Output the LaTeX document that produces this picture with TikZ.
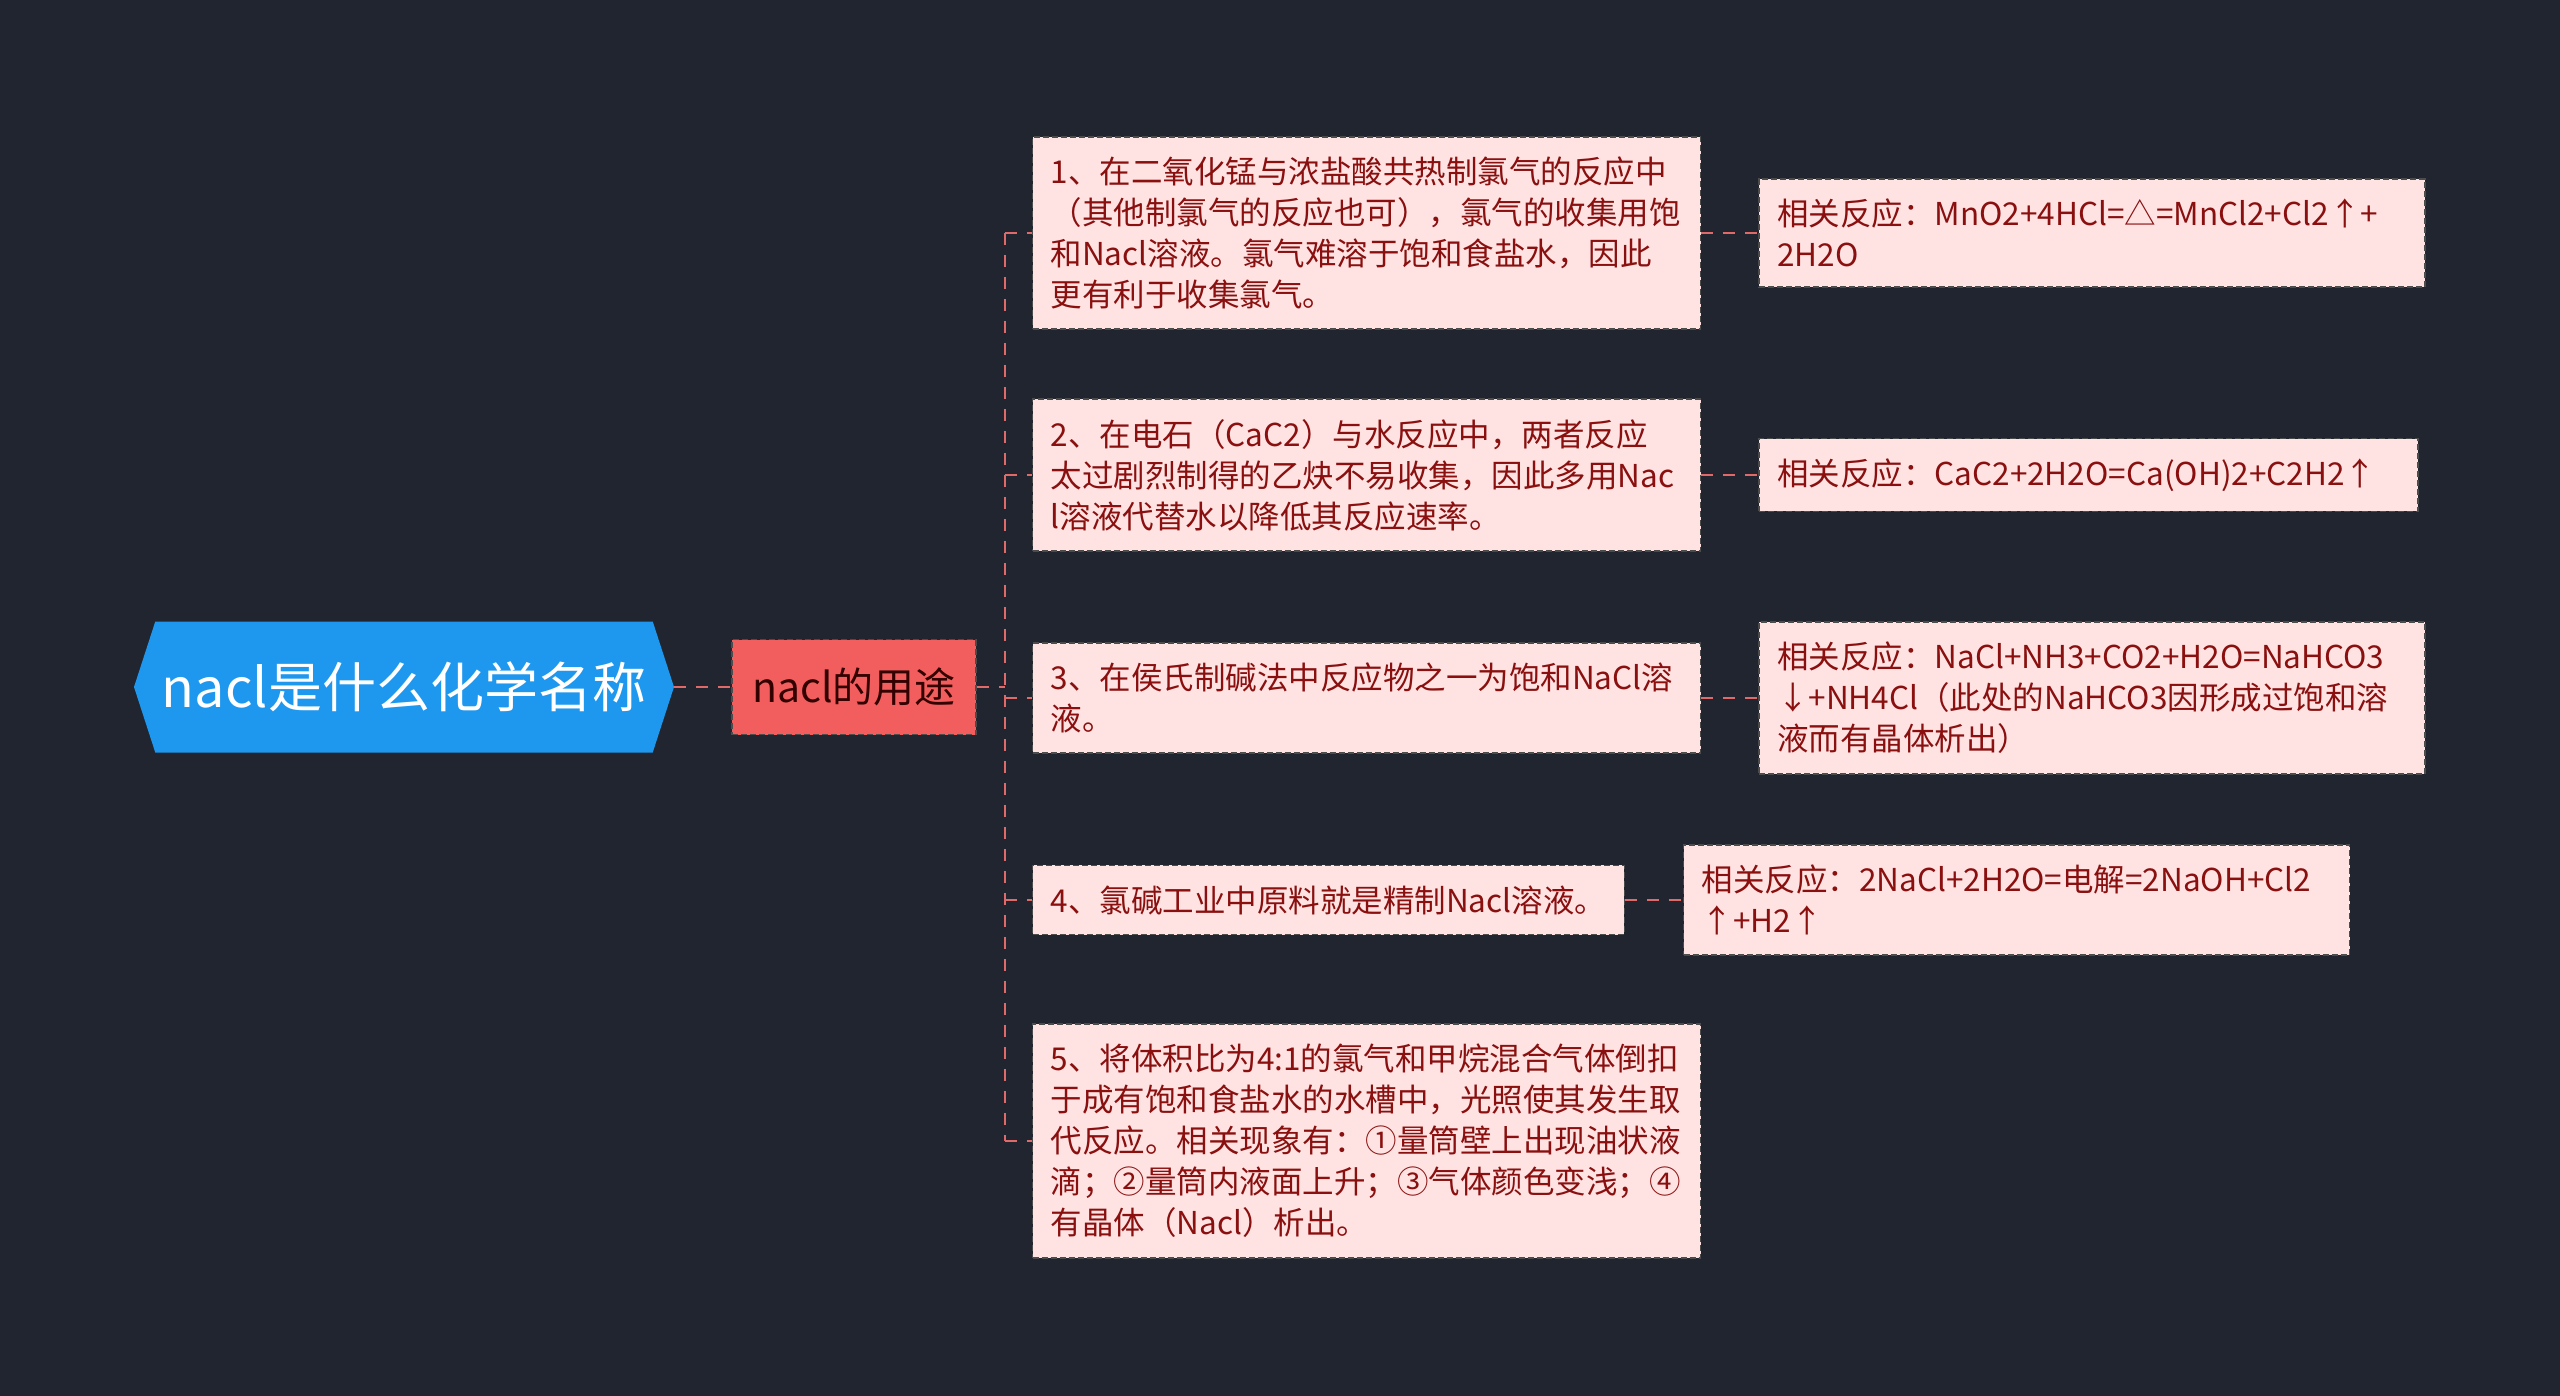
\documentclass[tikz,border=0pt]{standalone}
\usepackage{fontspec}
\setmainfont{Noto Sans CJK SC}
\usetikzlibrary{positioning,shapes.symbols}
\definecolor{bgdark}{HTML}{21252F}
\definecolor{rootblue}{HTML}{1E98EE}
\definecolor{usered}{HTML}{F25D5D}
\definecolor{leafpink}{HTML}{FFE3E3}
\definecolor{leaftext}{HTML}{8A1010}
\definecolor{linkred}{HTML}{E06A6A}
\tikzset{
  rootnode/.style={signal,signal to=east and west,signal pointer angle=144,
    fill=rootblue,text=white,font=\fontsize{27pt}{32pt}\selectfont,
    minimum width=270pt,minimum height=65.5pt,inner xsep=0pt},
  usenode/.style={draw=black!70,line width=0.7pt,dash pattern=on 3pt off 1.5pt,
    fill=usered,text=black!80!red,font=\fontsize{20.5pt}{24pt}\selectfont,
    minimum height=47.5pt,minimum width=122pt},
  leaf/.style={draw=black!70,line width=0.7pt,dash pattern=on 3pt off 1.5pt,
    fill=leafpink,text=leaftext,align=left,
    font=\fontsize{15.75pt}{20.5pt}\selectfont,inner xsep=9pt,inner ysep=10pt},
  wideleaf/.style={leaf,text width=316pt},
  react/.style={leaf,text width=315pt},
  link/.style={draw=linkred,line width=1pt,dash pattern=on 6pt off 5pt}
}

\begin{document}
\begin{tikzpicture}
  \fill[bgdark] (0,0) rectangle (1280pt,-698pt);
  \useasboundingbox (0,0) rectangle (1280pt,-698pt);

  \node[rootnode] (root) at (202pt,-343.5pt) {nacl是什么化学名称};
  \node[usenode,right=28.5pt of root] (use) {nacl的用途};
  \coordinate[right=14pt of use.east] (fork);

  % uses
  \node[wideleaf,anchor=west] (u1) at (516pt,-116.5pt) {1、在二氧化锰与浓盐酸共热制氯气的反应中\\（其他制氯气的反应也可），氯气的收集用饱\\和Nacl溶液。氯气难溶于饱和食盐水，因此\\更有利于收集氯气。};
  \node[wideleaf,anchor=west] (u2) at (516pt,-237.5pt) {2、在电石（CaC2）与水反应中，两者反应\\太过剧烈制得的乙炔不易收集，因此多用Nac\\l溶液代替水以降低其反应速率。};
  \node[wideleaf,anchor=west] (u3) at (516pt,-349pt) {3、在侯氏制碱法中反应物之一为饱和NaCl溶\\液。};
  \node[leaf,anchor=west] (u4) at (516pt,-450pt) {4、氯碱工业中原料就是精制Nacl溶液。};
  \node[wideleaf,anchor=west] (u5) at (516pt,-570.5pt) {5、将体积比为4:1的氯气和甲烷混合气体倒扣\\于成有饱和食盐水的水槽中，光照使其发生取\\代反应。相关现象有：①量筒壁上出现油状液\\滴；②量筒内液面上升；③气体颜色变浅；④\\有晶体（Nacl）析出。};

  % reactions
  \node[react,right=28.5pt of u1] (e1) {相关反应：MnO2+4HCl=△=MnCl2+Cl2↑+\\2H2O};
  \node[leaf,text width=311.5pt,right=28.5pt of u2] (e2) {相关反应：CaC2+2H2O=Ca(OH)2+C2H2↑};
  \node[react,right=28.5pt of u3] (e3) {相关反应：NaCl+NH3+CO2+H2O=NaHCO3\\↓+NH4Cl（此处的NaHCO3因形成过饱和溶\\液而有晶体析出）};
  \node[react,right=29pt of u4] (e4) {相关反应：2NaCl+2H2O=电解=2NaOH+Cl2\\↑+H2↑};

  \draw[link] (root.east) -- (use.west);
  \draw[link] (use.east) -- (fork);
  \draw[link] (fork |- u1.west) -- (fork |- u5.west);
  \foreach \k in {1,...,5}
    \draw[link] (fork |- u\k.west) -- (u\k.west);
  \foreach \k in {1,...,4}
    \draw[link] (u\k.east) -- (e\k.west);
\end{tikzpicture}
\end{document}
